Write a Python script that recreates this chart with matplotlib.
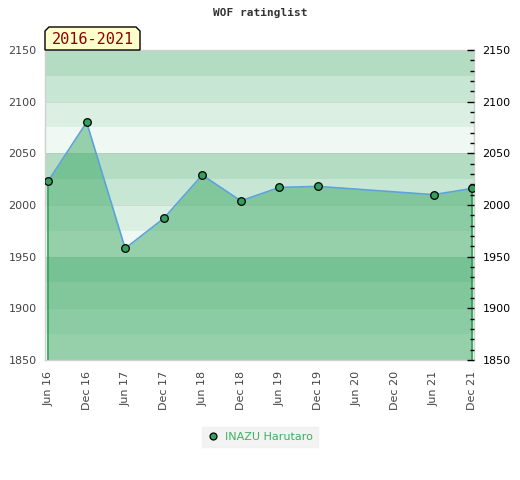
import matplotlib
matplotlib.use("Agg")
import matplotlib.pyplot as plt
from matplotlib.patches import Polygon
from matplotlib.lines import Line2D
from matplotlib.ticker import MultipleLocator

# ---- data ----
tick_labels = ["Jun 16", "Dec 16", "Jun 17", "Dec 17", "Jun 18", "Dec 18",
               "Jun 19", "Dec 19", "Jun 20", "Dec 20", "Jun 21", "Dec 21"]
dates = ["Jun 16", "Dec 16", "Jun 17", "Dec 17", "Jun 18", "Dec 18",
         "Jun 19", "Dec 19", "Jun 21", "Dec 21"]
ratings = [2023, 2080, 1958, 1987, 2029, 2004, 2017, 2018, 2010, 2016]
player = "INAZU Harutaro"
title = "WOF ratinglist"
period = "2016-2021"
y_min, y_max = 1850, 2150

x = [tick_labels.index(d) for d in dates]

W, H = 520, 480
fig = plt.figure(figsize=(W / 100, H / 100), dpi=100)
ax = fig.add_axes([45 / W, 1 - 360 / H, (474 - 45) / W, (360 - 50) / H])

# background bands
band_cols = ["#b3dcc3", "#c8e6d4", "#dcefe3", "#eff8f2"]
b = y_max
i = 0
while b > y_min:
    ax.axhspan(b - 25, b, color=band_cols[i % 4], lw=0, zorder=0)
    b -= 25
    i += 1
for g in range(y_min, y_max + 1, 50):
    ax.axhline(g, color="#bbbbbb", lw=0.6, alpha=0.5, zorder=0.5)

# area
ax.fill_between(x, ratings, y_min, color="#3daa66", alpha=0.5, lw=0, zorder=1)
ax.vlines([x[0], x[-1]], y_min, [ratings[0], ratings[-1]], color="#2e9e55", lw=1.2, zorder=2)
ax.plot(x, ratings, color="#5ba3db", lw=1.2, zorder=3)
ax.plot(x, ratings, ls="none", marker="o", ms=5.5, mfc="#35a05c", mec="black", mew=0.9, zorder=4)

ax.set_xlim(-0.08, 11.05)
ax.set_ylim(y_min, y_max)
ax.set_xticks(range(len(tick_labels)))
ax.set_xticklabels(tick_labels, rotation=90, fontsize=8, color="#444444")
ax.tick_params(axis="x", length=0, pad=8)
ax.yaxis.set_major_locator(MultipleLocator(50))
ax.tick_params(axis="y", left=False, labelleft=True, labelsize=8, labelcolor="#444444", length=0, pad=6)
for s in ax.spines.values():
    s.set_color("#d0d0d0")
    s.set_linewidth(1)

ax2 = ax.twinx()
ax2.set_ylim(y_min, y_max)
ax2.yaxis.set_major_locator(MultipleLocator(50))
ax2.yaxis.set_minor_locator(MultipleLocator(10))
ax2.tick_params(axis="y", which="major", direction="in", length=5, width=1, color="black", labelsize=8, labelcolor="black", pad=6)
ax2.tick_params(axis="y", which="minor", direction="in", length=3, width=1, color="black")
for s in ax2.spines.values():
    s.set_visible(False)

# title
fig.text(0.5, 1 - 13 / H, title, ha="center", va="center", family="DejaVu Sans Mono",
         fontweight="bold", fontsize=8, color="#333333")

# period box with chamfered top corners
x0, x1, y0, y1, c = 45, 140, 50, 27, 4
pts = [(x0, y0), (x0, y1 + c), (x0 + c, y1), (x1 - c, y1), (x1, y1 + c), (x1, y0)]
pts = [(px / W, 1 - py / H) for px, py in pts]
fig.patches.append(Polygon(pts, closed=True, facecolor="#ffffcc", edgecolor="black",
                           lw=1, transform=fig.transFigure, zorder=5))
fig.text((x0 + x1) / 2 / W, 1 - 40 / H, period, ha="center", va="center",
         family="DejaVu Sans Mono", fontsize=11, color="#8b0000", zorder=6)

# legend
h = Line2D([], [], ls="none", marker="o", ms=5, mfc="#35a05c", mec="black", mew=0.9)
leg = fig.legend([h], [player], loc="center", bbox_to_anchor=(260 / W, 1 - 437 / H),
                 frameon=True, fontsize=8, handlelength=1, handletextpad=0.6,
                 borderpad=0.45, fancybox=False)
leg.get_frame().set_facecolor("#f0f0f0")
leg.get_frame().set_edgecolor("#f0f0f0")
for t in leg.get_texts():
    t.set_color("#3cb060")

fig.savefig("out.png", dpi=100)
